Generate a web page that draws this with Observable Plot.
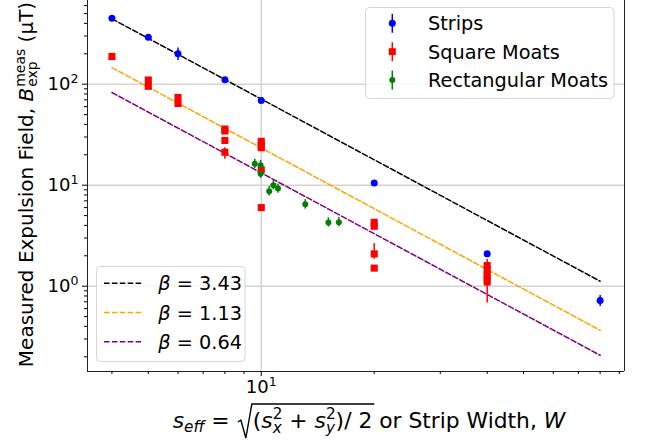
<!DOCTYPE html>
<html><head><meta charset="utf-8">
<script src="https://cdn.jsdelivr.net/npm/d3@7"></script>
<script src="https://cdn.jsdelivr.net/npm/@observablehq/plot@0.6"></script>
<style>
body{margin:0;background:#fff;}
text{white-space:pre;}
</style>
</head><body>
<div id="chart"></div>
<script>
const FONT = "DejaVu Sans";

// ---- data ----
const stripsX  = [4, 5, 6, 8, 10, 20, 40, 80];
const stripsY  = [450, 292, 200, 110.6, 69, 10.5, 2.09, 0.722];
const stripsLo = [450, 292, 172, 110.6, 69, 10.5, 2.09, 0.63];
const stripsHi = [450, 292, 228, 110.6, 69, 10.5, 2.09, 0.81];

const squareX  = [4, 5, 5, 6, 6, 8, 8, 8, 8, 10, 10, 10, 10, 10, 20, 20, 20, 20, 40, 40, 40, 40, 40];
const squareY  = [188, 110, 95.3, 73.9, 64.4, 36, 34.4, 27.7, 21.2, 27.2, 25, 23.5, 14.2, 6, 4.29, 3.92, 2.09, 1.51, 1.6, 1.45, 1.3, 1.2, 1.1];
const squareLo = [188, 110, 95.3, 73.9, 64.4, 36, 34.4, 27.7, 18.1, 27.2, 25, 23.5, 14.2, 6, 4.29, 3.92, 1.85, 1.51, 1.6, 1.45, 1.3, 1.2, 0.68];
const squareHi = [188, 110, 95.3, 73.9, 64.4, 36, 34.4, 27.7, 23.5, 27.2, 25, 23.5, 14.2, 6, 4.29, 3.92, 2.63, 1.51, 1.84, 1.45, 1.3, 1.2, 1.1];

const rectX  = [9.61, 9.96, 9.96, 10.77, 10.5, 11.08, 13.1, 15.1, 16.1];
const rectY  = [16.3, 15.8, 13.0, 10.0, 8.72, 9.27, 6.48, 4.27, 4.30];
const rectLo = [14.6, 14.1, 11.7, 9.0, 7.8, 8.3, 5.8, 3.85, 3.87];
const rectHi = [18.1, 17.6, 14.5, 11.1, 9.7, 10.3, 7.2, 4.75, 4.78];

// fit lines (endpoints)
const fitX = [4, 80];
const fitBlack  = [444, 1.12];
const fitOrange = [146, 0.366];
const fitPurple = [82.7, 0.207];
const betaLabels = ["3.43", "1.13", "0.64"];
const fitColors = ["black", "orange", "purple"];

const seriesNames  = ["Strips", "Square Moats", "Rectangular Moats"];
const seriesColors = ["blue", "red", "green"];

const yMajor = [1, 10, 100];
const yMinor = [0.2,0.3,0.4,0.5,0.6,0.7,0.8,0.9, 2,3,4,5,6,7,8,9, 20,30,40,50,60,70,80,90, 200,300,400,500,600];
const xMajor = [10];
const xMinor = [4,5,6,7,8,9, 20,30,40,50,60,70,80,90];
const xDomain = [3.443, 92.9];
const yDomain = [0.143, 674];

const table = (xs, ys, lo, hi) => xs.map((x, i) => ({x, y: ys[i], lo: lo[i], hi: hi[i]}));
const strips = table(stripsX, stripsY, stripsLo, stripsHi);
const squares = table(squareX, squareY, squareLo, squareHi);
const rects = table(rectX, rectY, rectLo, rectHi);
const fits = [fitBlack, fitOrange, fitPurple].flatMap((ys, k) => fitX.map((x, i) => ({x, y: ys[i], k})));

const gridStyle = {stroke: "#d3d3d3", strokeOpacity: 1, strokeWidth: 1.5};
const dash = "5.5,2.4";

const plot = Plot.plot({
  width: 646, height: 441,
  marginLeft: 87, marginRight: 22, marginTop: 0, marginBottom: 70,
  style: {fontFamily: FONT, fontSize: "18px", color: "#000", background: "#fff", overflow: "visible"},
  x: {type: "log", domain: xDomain},
  y: {type: "log", domain: yDomain},
  marks: [
    Plot.gridX(xMajor, gridStyle),
    Plot.gridY(yMajor, gridStyle),
    ...[0,1,2].map(k => Plot.line(fits.filter(d => d.k === k), {x: "x", y: "y", stroke: fitColors[k], strokeWidth: 1.5, strokeDasharray: dash})),
    Plot.ruleX(strips.filter(d => d.hi > d.lo), {x: "x", y1: "lo", y2: "hi", stroke: "blue", strokeWidth: 1.5}),
    Plot.ruleX(squares.filter(d => d.hi > d.lo), {x: "x", y1: "lo", y2: "hi", stroke: "red", strokeWidth: 1.5}),
    Plot.ruleX(rects, {x: "x", y1: "lo", y2: "hi", stroke: "green", strokeWidth: 1.5}),
    Plot.dot(strips, {x: "x", y: "y", r: 3.5, fill: "blue"}),
    Plot.dot(squares, {x: "x", y: "y", r: 4, symbol: "square", fill: "red"}),
    Plot.dot(rects, {x: "x", y: "y", r: 3, fill: "green"}),
    Plot.ruleX([xDomain[0], xDomain[1]], {stroke: "#222", strokeWidth: 1}),
    Plot.ruleY([yDomain[0]], {stroke: "#222", strokeWidth: 1}),
    Plot.axisY(yMajor, {tickSize: 5, tickPadding: 4, tickFormat: d => "10^" + Math.round(Math.log10(d)), label: null, fontSize: 18}),
    Plot.axisY(yMinor, {tickSize: 3, tickFormat: () => "", label: null}),
    Plot.axisX(xMajor, {tickSize: 5, tickPadding: 4, tickFormat: d => "10^" + Math.round(Math.log10(d)), label: null, fontSize: 18}),
    Plot.axisX(xMinor, {tickSize: 3, tickFormat: () => "", label: null})
  ]
});
document.getElementById("chart").appendChild(plot);

const svg = d3.select(plot);
svg.selectAll("text").each(function() {
  const s = this.textContent;
  const m = /^10\^(-?\d)$/.exec(s);
  if (m) {
    const el = d3.select(this);
    el.text("10");
    el.append("tspan").attr("dy", "-0.55em").attr("font-size", "12.6px").text(m[1]);
  }
});

// rich text helper
function richText(parent, pieces, fs) {
  const g = parent.append("g").attr("font-family", FONT).attr("fill", "#000").attr("text-anchor", "start");
  let x = 0; const marks = {};
  for (const p of pieces) {
    if (p.mark) { marks[p.mark] = x; continue; }
    if (p.gap) { x += p.gap * fs; continue; }
    const t = g.append("text").attr("x", x).attr("y", -(p.shift || 0) * fs)
      .attr("text-anchor", "start")
      .attr("font-size", fs * (p.s || 1))
      .attr("font-style", p.it ? "italic" : "normal").text(p.t);
    const w = t.node().getComputedTextLength();
    if (!p.noAdvance) x += w;
  }
  return {g, width: x, marks};
}

// y label
{
  const fs = 20;
  const r = richText(svg, [
    {t: "Measured Expulsion Field, "},
    {t: "B", it: true},
    {gap: 0.05},
    {t: "exp", s: 0.7, shift: -0.22, noAdvance: true},
    {t: "meas", s: 0.7, shift: 0.42},
    {t: " (µT)"}
  ], fs);
  r.g.attr("transform", `translate(33,${184.5 + r.width / 2}) rotate(-90)`);
}

// x label
{
  const fs = 21.8;
  const r = richText(svg, [
    {t: "s", it: true},
    {t: "eff", it: true, s: 0.7, shift: -0.2},
    {t: " = "},
    {gap: 0.75},
    {mark: "r0"},
    {t: "("},
    {t: "s", it: true},
    {t: "x", it: true, s: 0.7, shift: -0.22, noAdvance: true},
    {t: "2", s: 0.7, shift: 0.42},
    {t: " + "},
    {t: "s", it: true},
    {t: "y", it: true, s: 0.7, shift: -0.22, noAdvance: true},
    {t: "2", s: 0.7, shift: 0.42},
    {t: ")/ 2"},
    {mark: "r1"},
    {t: " or Strip Width, "},
    {t: "W", it: true}
  ], fs);
  const x0 = 369 - r.width / 2, base = 428;
  r.g.attr("transform", `translate(${x0},${base})`);
  const a = r.marks.r0, b = r.marks.r1;
  const top = 404 - base;
  r.g.append("path")
    .attr("d", `M${a - 15},${-6} L${a - 12},${-8} L${a - 7},${10} L${a - 1},${top} L${b + 2},${top}`)
    .attr("fill", "none").attr("stroke", "#000").attr("stroke-width", 1.4);
}

// legend 1 (series)
{
  const g = svg.append("g").attr("font-family", FONT).attr("text-anchor", "start");
  g.append("rect").attr("x", 365.5).attr("y", 7.5).attr("width", 248.5).attr("height", 91)
    .attr("rx", 4).attr("fill", "#fff").attr("fill-opacity", 0.8).attr("stroke", "#d6d6d6");
  seriesNames.forEach((name, i) => {
    const cy = 23.3 + i * 28.4, cx = 392.3;
    g.append("line").attr("x1", cx).attr("x2", cx).attr("y1", cy - 9.5).attr("y2", cy + 9.5)
      .attr("stroke", seriesColors[i]).attr("stroke-width", 1.5);
    if (i === 1) g.append("rect").attr("x", cx - 3.5).attr("y", cy - 3.5).attr("width", 7).attr("height", 7).attr("fill", "red");
    else g.append("circle").attr("cx", cx).attr("cy", cy).attr("r", i === 0 ? 3.5 : 3).attr("fill", seriesColors[i]);
    g.append("text").attr("x", 428).attr("y", cy + 7).attr("font-size", 19.3).attr("text-anchor", "start").text(name);
  });
}

// legend 2 (fits)
{
  const g = svg.append("g").attr("font-family", FONT).attr("text-anchor", "start");
  g.append("rect").attr("x", 96.5).attr("y", 266.5).attr("width", 148.5).attr("height", 95)
    .attr("rx", 4).attr("fill", "#fff").attr("fill-opacity", 0.8).attr("stroke", "#d6d6d6");
  betaLabels.forEach((b, i) => {
    const cy = 283.3 + i * 29.2;
    g.append("line").attr("x1", 104).attr("x2", 142.3).attr("y1", cy).attr("y2", cy)
      .attr("stroke", fitColors[i]).attr("stroke-width", 1.5).attr("stroke-dasharray", dash);
    const t = g.append("text").attr("x", 158.3).attr("y", cy + 7).attr("font-size", 19.3).attr("text-anchor", "start");
    t.append("tspan").attr("font-style", "italic").text("β");
    t.append("tspan").text(" = " + b);
  });
}
</script>
</body></html>
